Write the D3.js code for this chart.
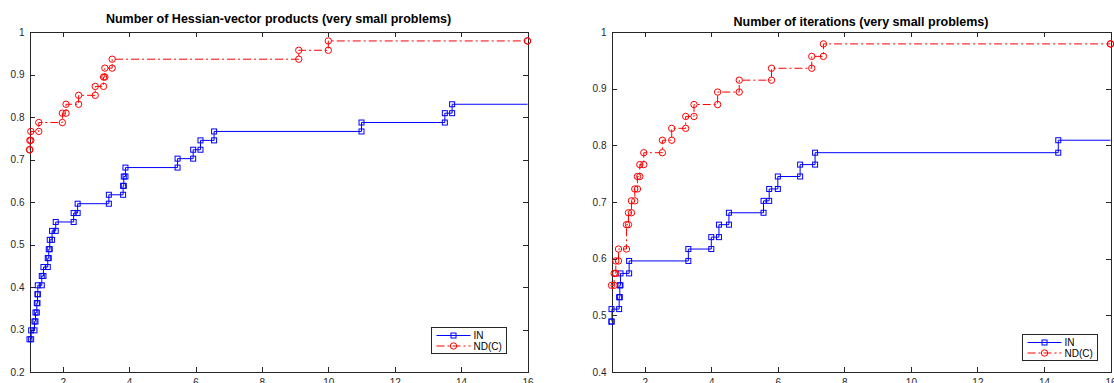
<!DOCTYPE html>
<html><head><meta charset="utf-8">
<script src="https://cdn.jsdelivr.net/npm/d3@7/dist/d3.min.js"></script>
<style>body{margin:0;background:#fff}svg{display:block}</style>
</head><body>
<svg id="c" width="1114" height="383"></svg>
<script>
// ---- data ----
const xTicks = [2, 4, 6, 8, 10, 12, 14, 16];
const leftYTicks = [0.2, 0.3, 0.4, 0.5, 0.6, 0.7, 0.8, 0.9, 1];
const rightYTicks = [0.4, 0.5, 0.6, 0.7, 0.8, 0.9, 1];
const seriesNames = ["IN", "ND(C)"];
const titles = ["Number of Hessian-vector products (very small problems)", "Number of iterations (very small problems)"];

// Left: Hessian-vector products
const hvIN_ratio = [1.00,1.05,1.15,1.18,1.22,1.24,1.25,1.37,1.42,1.55,1.58,1.61,1.68,1.79,2.33,2.45,3.39,3.82,3.84,3.89,5.46,5.93,6.15,6.56,11.0,13.51,13.73,17.0];
const hvIN_frac  = [0.277,0.298,0.319,0.340,0.362,0.383,0.404,0.426,0.447,0.468,0.489,0.511,0.532,0.553,0.574,0.596,0.617,0.638,0.660,0.681,0.702,0.723,0.745,0.766,0.787,0.809,0.830,0.830];
const hvND_ratio = [1.00,1.01,1.04,1.28,1.99,2.10,2.48,2.98,3.23,3.27,3.49,9.11,10.0,16.0];
const hvND_frac  = [0.723,0.745,0.766,0.787,0.809,0.830,0.851,0.872,0.894,0.915,0.936,0.957,0.979,0.979];

// Right: iterations
const itIN_ratio = [1.00,1.00,1.23,1.25,1.27,1.53,3.31,4.00,4.23,4.53,5.57,5.74,6.00,6.67,7.12,14.43,17.0];
const itIN_frac  = [0.489,0.511,0.532,0.553,0.574,0.596,0.617,0.638,0.660,0.681,0.702,0.723,0.745,0.766,0.787,0.809,0.809];
const itND_ratio = [1.00,1.08,1.13,1.21,1.45,1.51,1.60,1.70,1.78,1.85,1.97,2.53,2.81,3.23,3.48,4.19,4.84,5.81,7.02,7.37,16.0];
const itND_frac  = [0.553,0.574,0.596,0.617,0.660,0.681,0.702,0.723,0.745,0.766,0.787,0.809,0.830,0.851,0.872,0.894,0.915,0.936,0.957,0.979,0.979];

// ---- drawing ----
const svg = d3.select("#c");
const AX = "#262626";
const FONT = "'Liberation Sans', Arial, Helvetica, sans-serif";
const BLUE = "#0000ff", RED = "#ff0000";
const DASHDOT = "8,3,2,3";

function stairs(xs, ys) {
  const pts = [];
  xs.forEach((x, i) => {
    if (i > 0) pts.push([x, ys[i - 1]]);
    pts.push([x, ys[i]]);
  });
  return pts;
}

function panel(cfg, idx) {
  const x = d3.scaleLinear().domain([1, 16]).range([cfg.x0, cfg.x1]);
  const y = d3.scaleLinear().domain(cfg.yDomain).range([372, 32]);
  const g = svg.append("g");
  const clipId = "clip" + idx;
  svg.append("clipPath").attr("id", clipId).append("rect")
    .attr("x", cfg.x0).attr("y", 32).attr("width", cfg.x1 - cfg.x0).attr("height", 340);

  // axes
  const fmt = d => d === 1 ? "1" : d3.format(".1f")(d);
  const styleAxis = sel => {
    sel.selectAll(".domain").attr("stroke", AX).attr("stroke-width", 1).attr("shape-rendering", "crispEdges");
    sel.selectAll(".tick line").attr("stroke", AX).attr("stroke-width", 1).attr("shape-rendering", "crispEdges");
    sel.selectAll(".tick text").attr("fill", AX).attr("font-size", 10).attr("font-family", FONT);
  };
  g.append("g").attr("transform", "translate(0,372)")
    .call(d3.axisBottom(x).tickValues(xTicks).tickSize(-5).tickSizeOuter(0).tickPadding(7).tickFormat(d3.format("d")))
    .call(styleAxis);
  g.append("g").attr("transform", "translate(0,32)")
    .call(d3.axisTop(x).tickValues(xTicks).tickSize(-5).tickSizeOuter(0).tickFormat(""))
    .call(styleAxis);
  g.append("g").attr("transform", `translate(${cfg.x0},0)`)
    .call(d3.axisLeft(y).tickValues(cfg.yTicks).tickSize(-5).tickSizeOuter(0).tickPadding(5).tickFormat(fmt))
    .call(styleAxis);
  g.append("g").attr("transform", `translate(${cfg.x1},0)`)
    .call(d3.axisRight(y).tickValues(cfg.yTicks).tickSize(-5).tickSizeOuter(0).tickFormat(""))
    .call(styleAxis);
  g.selectAll(".domain").attr("fill", "none");

  // title
  g.append("text").attr("x", (cfg.x0 + cfg.x1) / 2).attr("y", cfg.titleY)
    .attr("text-anchor", "middle").attr("font-family", FONT).attr("font-weight", "bold")
    .attr("font-size", 12.5).attr("fill", "#000").text(titles[idx]);

  const line = d3.line().x(d => x(d[0])).y(d => y(d[1]));
  const series = [
    {xs: cfg.inX, ys: cfg.inY, color: BLUE, dash: null, marker: "square"},
    {xs: cfg.ndX, ys: cfg.ndY, color: RED, dash: DASHDOT, marker: "circle"}
  ];
  series.forEach(s => {
    const pts = stairs(s.xs, s.ys);
    g.append("path").datum(pts).attr("d", line).attr("fill", "none")
      .attr("stroke", s.color).attr("stroke-width", 1)
      .attr("stroke-dasharray", s.dash).attr("clip-path", `url(#${clipId})`);
    const inPts = pts.filter(p => p[0] <= 16);
    if (s.marker === "square") {
      g.selectAll(null).data(inPts).enter().append("rect")
        .attr("x", d => x(d[0]) - 2.5).attr("y", d => y(d[1]) - 2.5)
        .attr("width", 5).attr("height", 5)
        .attr("fill", "none").attr("stroke", s.color).attr("stroke-width", 1);
    } else {
      g.selectAll(null).data(inPts).enter().append("circle")
        .attr("cx", d => x(d[0])).attr("cy", d => y(d[1])).attr("r", 3.2)
        .attr("fill", "none").attr("stroke", s.color).attr("stroke-width", 1);
    }
  });

  // legend
  const L = cfg.legend;
  const lg = g.append("g");
  lg.append("rect").attr("x", L.x).attr("y", L.y).attr("width", L.w).attr("height", L.h)
    .attr("fill", "#fff").attr("stroke", AX).attr("stroke-width", 1).attr("shape-rendering", "crispEdges");
  series.forEach((s, i) => {
    const cy = L.y + 8 + i * 10.5;
    lg.append("line").attr("x1", L.x + 5).attr("x2", L.x + 39).attr("y1", cy).attr("y2", cy)
      .attr("stroke", s.color).attr("stroke-width", 1).attr("stroke-dasharray", s.dash);
    const mx = L.x + 22;
    if (s.marker === "square") {
      lg.append("rect").attr("x", mx - 2.5).attr("y", cy - 2.5).attr("width", 5).attr("height", 5)
        .attr("fill", "none").attr("stroke", s.color);
    } else {
      lg.append("circle").attr("cx", mx).attr("cy", cy).attr("r", 3.2).attr("fill", "none").attr("stroke", s.color);
    }
    lg.append("text").attr("x", L.x + 42).attr("y", cy + 3.6).attr("font-family", FONT)
      .attr("font-size", 10).attr("fill", "#000").text(seriesNames[i]);
  });
}

panel({x0: 29.5, x1: 527.5, yDomain: [0.2, 1], yTicks: leftYTicks, titleY: 22.5,
  inX: hvIN_ratio, inY: hvIN_frac, ndX: hvND_ratio, ndY: hvND_frac,
  legend: {x: 431.5, y: 327.5, w: 75, h: 26}}, 0);
panel({x0: 611.5, x1: 1110.5, yDomain: [0.4, 1], yTicks: rightYTicks, titleY: 25.5,
  inX: itIN_ratio, inY: itIN_frac, ndX: itND_ratio, ndY: itND_frac,
  legend: {x: 1022.5, y: 334.5, w: 75, h: 26}}, 1);
</script>
</body></html>
